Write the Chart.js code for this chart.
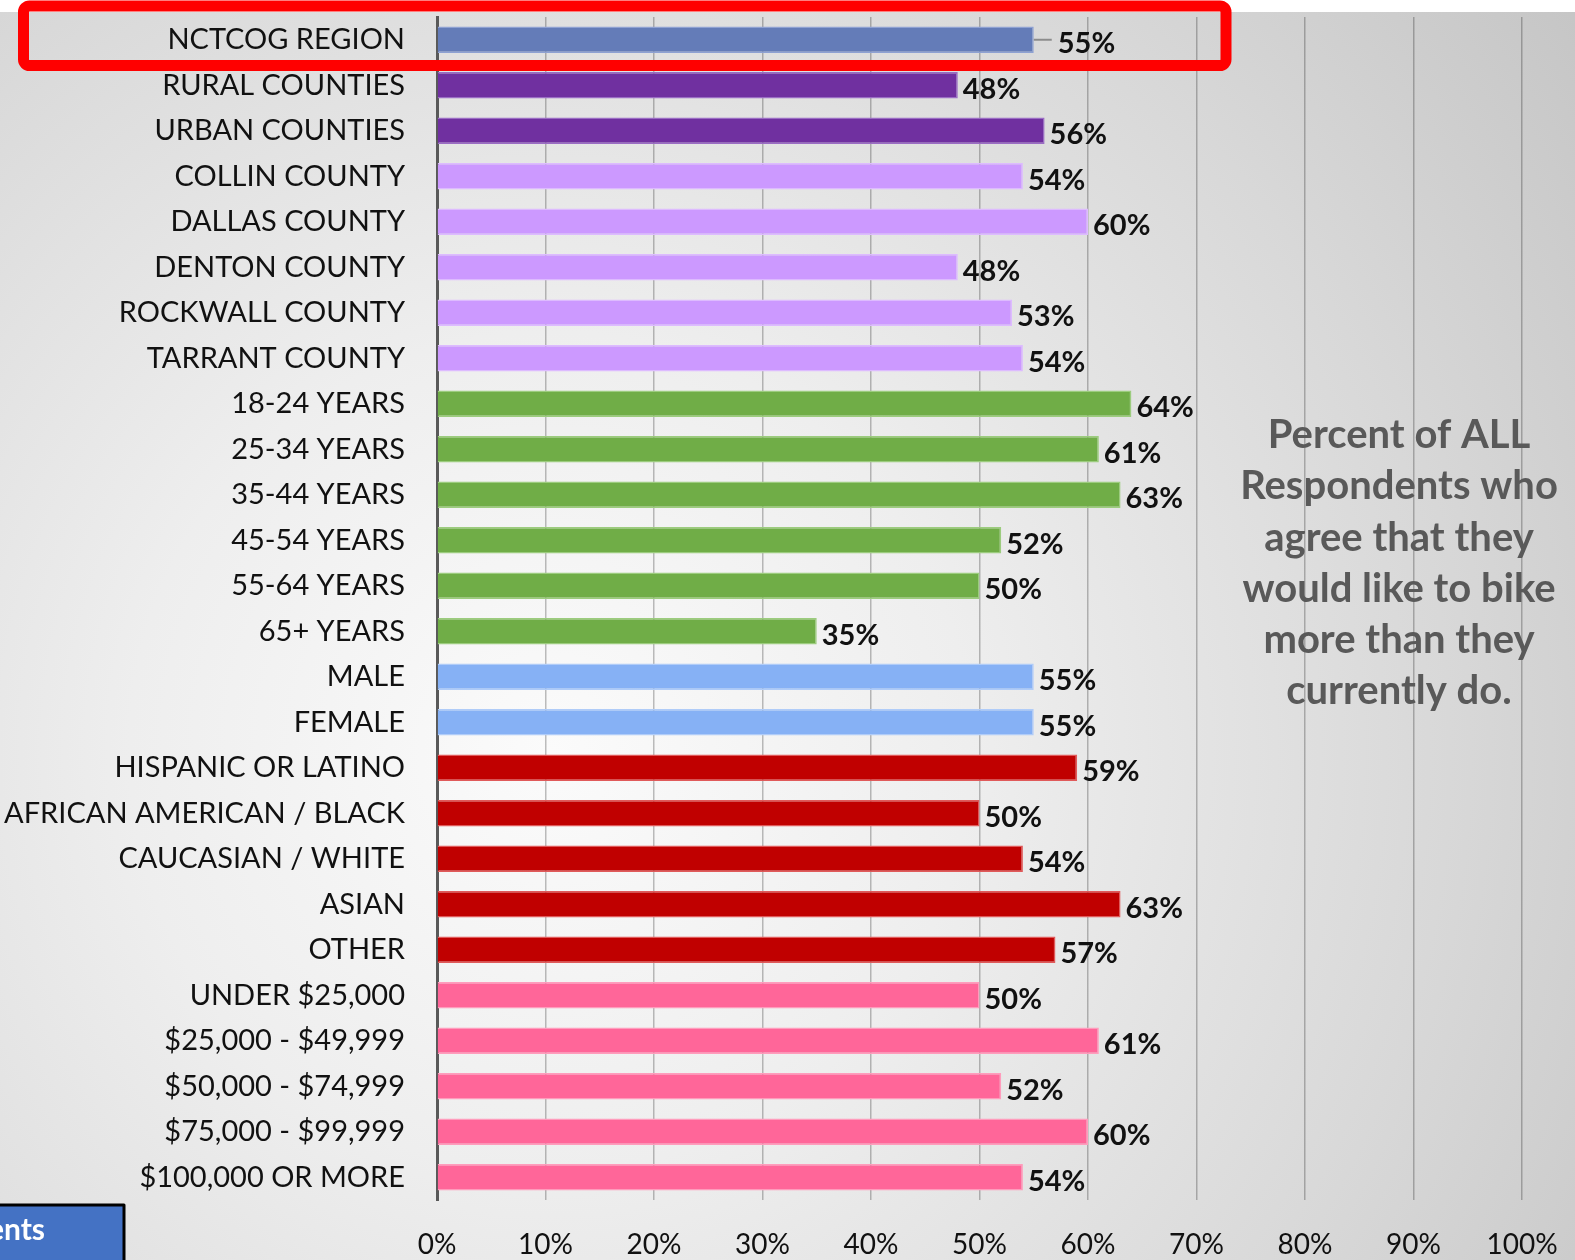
<!DOCTYPE html>
<html>
<head>
<meta charset="utf-8">
<title>Would like to bike more</title>
<script src="https://cdn.jsdelivr.net/npm/chart.js@4/dist/chart.umd.min.js"></script>
<style>
    html, body { margin: 0; padding: 0; background: #ffffff; }
    #wrap {
        position: relative;
        width: 1575px;
        height: 1260px;
        overflow: hidden;
    }
    #backdrop {
        position: absolute;
        left: 0; top: 12px;
        width: 1575px; height: 1248px;
        background: radial-gradient(circle at 550px 740px, #fbfbfb 0px, #eeeeee 420px, #d8d8d8 900px, #c4c4c4 1300px);
    }
    #chart { position: absolute; left: 0; top: 0; }
</style>
</head>
<body>
<div id="wrap">
    <div id="backdrop"></div>
    <canvas id="chart" width="1575" height="1260"></canvas>
</div>
<script>
// Survey groups, top to bottom
const categories = [
    'NCTCOG REGION', 'RURAL COUNTIES', 'URBAN COUNTIES',
    'COLLIN COUNTY', 'DALLAS COUNTY', 'DENTON COUNTY', 'ROCKWALL COUNTY', 'TARRANT COUNTY',
    '18-24 YEARS', '25-34 YEARS', '35-44 YEARS', '45-54 YEARS', '55-64 YEARS', '65+ YEARS',
    'MALE', 'FEMALE',
    'HISPANIC OR LATINO', 'AFRICAN AMERICAN / BLACK', 'CAUCASIAN / WHITE', 'ASIAN', 'OTHER',
    'UNDER $25,000', '$25,000 - $49,999', '$50,000 - $74,999', '$75,000 - $99,999', '$100,000 OR MORE'
];

// Percent who would like to bike more than they currently do
const agreePct = [
    55, 48, 56,
    54, 60, 48, 53, 54,
    64, 61, 63, 52, 50, 35,
    55, 55,
    59, 50, 54, 63, 57,
    50, 61, 52, 60, 54
];

const xTicks = [0, 10, 20, 30, 40, 50, 60, 70, 80, 90, 100];

const noteLines = [
    'Percent of ALL',
    'Respondents who',
    'agree that they',
    'would like to bike',
    'more than they',
    'currently do.'
];

// colour per group of bars
const REGION = ['#647cb8', '#8ea1d2'];
const AREA = ['#7030a0', '#9a6cc4'];
const COUNTY = ['#cc99ff', '#ddbbff'];
const AGE = ['#70ad47', '#9ccc7e'];
const SEX = ['#86b1f5', '#b0ccf8'];
const RACE = ['#c00000', '#e05a5a'];
const INCOME = ['#ff6699', '#ff9cbc'];
const groupColors = [
    REGION, AREA, AREA,
    COUNTY, COUNTY, COUNTY, COUNTY, COUNTY,
    AGE, AGE, AGE, AGE, AGE, AGE,
    SEX, SEX,
    RACE, RACE, RACE, RACE, RACE,
    INCOME, INCOME, INCOME, INCOME, INCOME
];

const FONT = 'Lato, "Open Sans", sans-serif';

// percent labels at the end of each bar
const valueLabels = {
    id: 'valueLabels',
    afterDatasetsDraw(chart) {
        const ctx = chart.ctx;
        const meta = chart.getDatasetMeta(0);
        ctx.save();
        ctx.font = 'bold 29px ' + FONT;
        ctx.fillStyle = '#111111';
        ctx.textBaseline = 'middle';
        ctx.textAlign = 'left';
        meta.data.forEach((bar, i) => {
            let x = bar.x + 5;
            if (i === 0) {
                // first label sits a little further out with a leader
                ctx.strokeStyle = '#8c8c8c';
                ctx.lineWidth = 2;
                ctx.beginPath();
                ctx.moveTo(bar.x, bar.y);
                ctx.lineTo(bar.x + 18, bar.y);
                ctx.stroke();
                x = bar.x + 24;
            }
            ctx.fillText(agreePct[i] + '%', x, bar.y + 4);
        });
        ctx.restore();
    }
};

// side note, highlight box and the clipped tab at bottom left
const extras = {
    id: 'extras',
    afterDraw(chart) {
        const ctx = chart.ctx;
        ctx.save();

        ctx.font = 'bold 40px ' + FONT;
        ctx.fillStyle = '#595959';
        ctx.textAlign = 'center';
        ctx.textBaseline = 'middle';
        noteLines.forEach((line, i) => {
            ctx.fillText(line, 1399, 435 + i * 51.3);
        });

        // red highlight around the region row
        ctx.strokeStyle = '#ff0000';
        ctx.lineWidth = 11;
        ctx.lineJoin = 'round';
        ctx.beginPath();
        ctx.roundRect(23.5, 6, 1202.5, 59.5, 6);
        ctx.stroke();

        // blue tab
        ctx.fillStyle = '#4472c4';
        ctx.fillRect(0, 1204, 124, 60);
        ctx.strokeStyle = '#000000';
        ctx.lineWidth = 3;
        ctx.strokeRect(-3, 1205, 127, 60);
        ctx.beginPath();
        ctx.rect(0, 1206, 122, 54);
        ctx.clip();
        ctx.fillStyle = '#ffffff';
        ctx.font = 'bold 30px ' + FONT;
        ctx.textAlign = 'right';
        ctx.textBaseline = 'middle';
        ctx.fillText('Respondents', 45, 1230);

        ctx.restore();
    }
};

const chart = new Chart(document.getElementById('chart'), {
    type: 'bar',
    data: {
        labels: categories,
        datasets: [{
            data: agreePct,
            backgroundColor: groupColors.map(c => c[0]),
            borderColor: groupColors.map(c => c[1]),
            borderWidth: 1.5,
            barPercentage: 1,
            categoryPercentage: 0.58
        }]
    },
    options: {
        indexAxis: 'y',
        responsive: false,
        animation: false,
        layout: {
            padding: { left: 0, right: 53, top: 17, bottom: 0 }
        },
        plugins: {
            legend: { display: false },
            tooltip: { enabled: false }
        },
        scales: {
            x: {
                min: 0,
                max: 100,
                afterBuildTicks(scale) {
                    scale.ticks = xTicks.map(v => ({ value: v }));
                },
                afterFit(scale) {
                    scale.height = 60;
                    scale.paddingLeft = 0;
                    scale.paddingRight = 0;
                },
                grid: {
                    color: 'rgba(0, 0, 0, 0.25)',
                    lineWidth: 1.5,
                    drawTicks: false
                },
                border: { display: false },
                ticks: {
                    padding: 28,
                    color: '#111111',
                    font: { family: FONT, size: 28 },
                    callback: v => v + '%'
                }
            },
            y: {
                afterFit(scale) {
                    scale.width = 437;
                    scale.paddingTop = 0;
                    scale.paddingBottom = 0;
                },
                grid: { display: false, drawTicks: false },
                border: { display: true, color: '#595959', width: 3 },
                ticks: {
                    padding: 32,
                    color: '#111111',
                    autoSkip: false,
                    font: { family: FONT, size: 29 }
                }
            }
        }
    },
    plugins: [valueLabels, extras]
});
</script>
</body>
</html>
